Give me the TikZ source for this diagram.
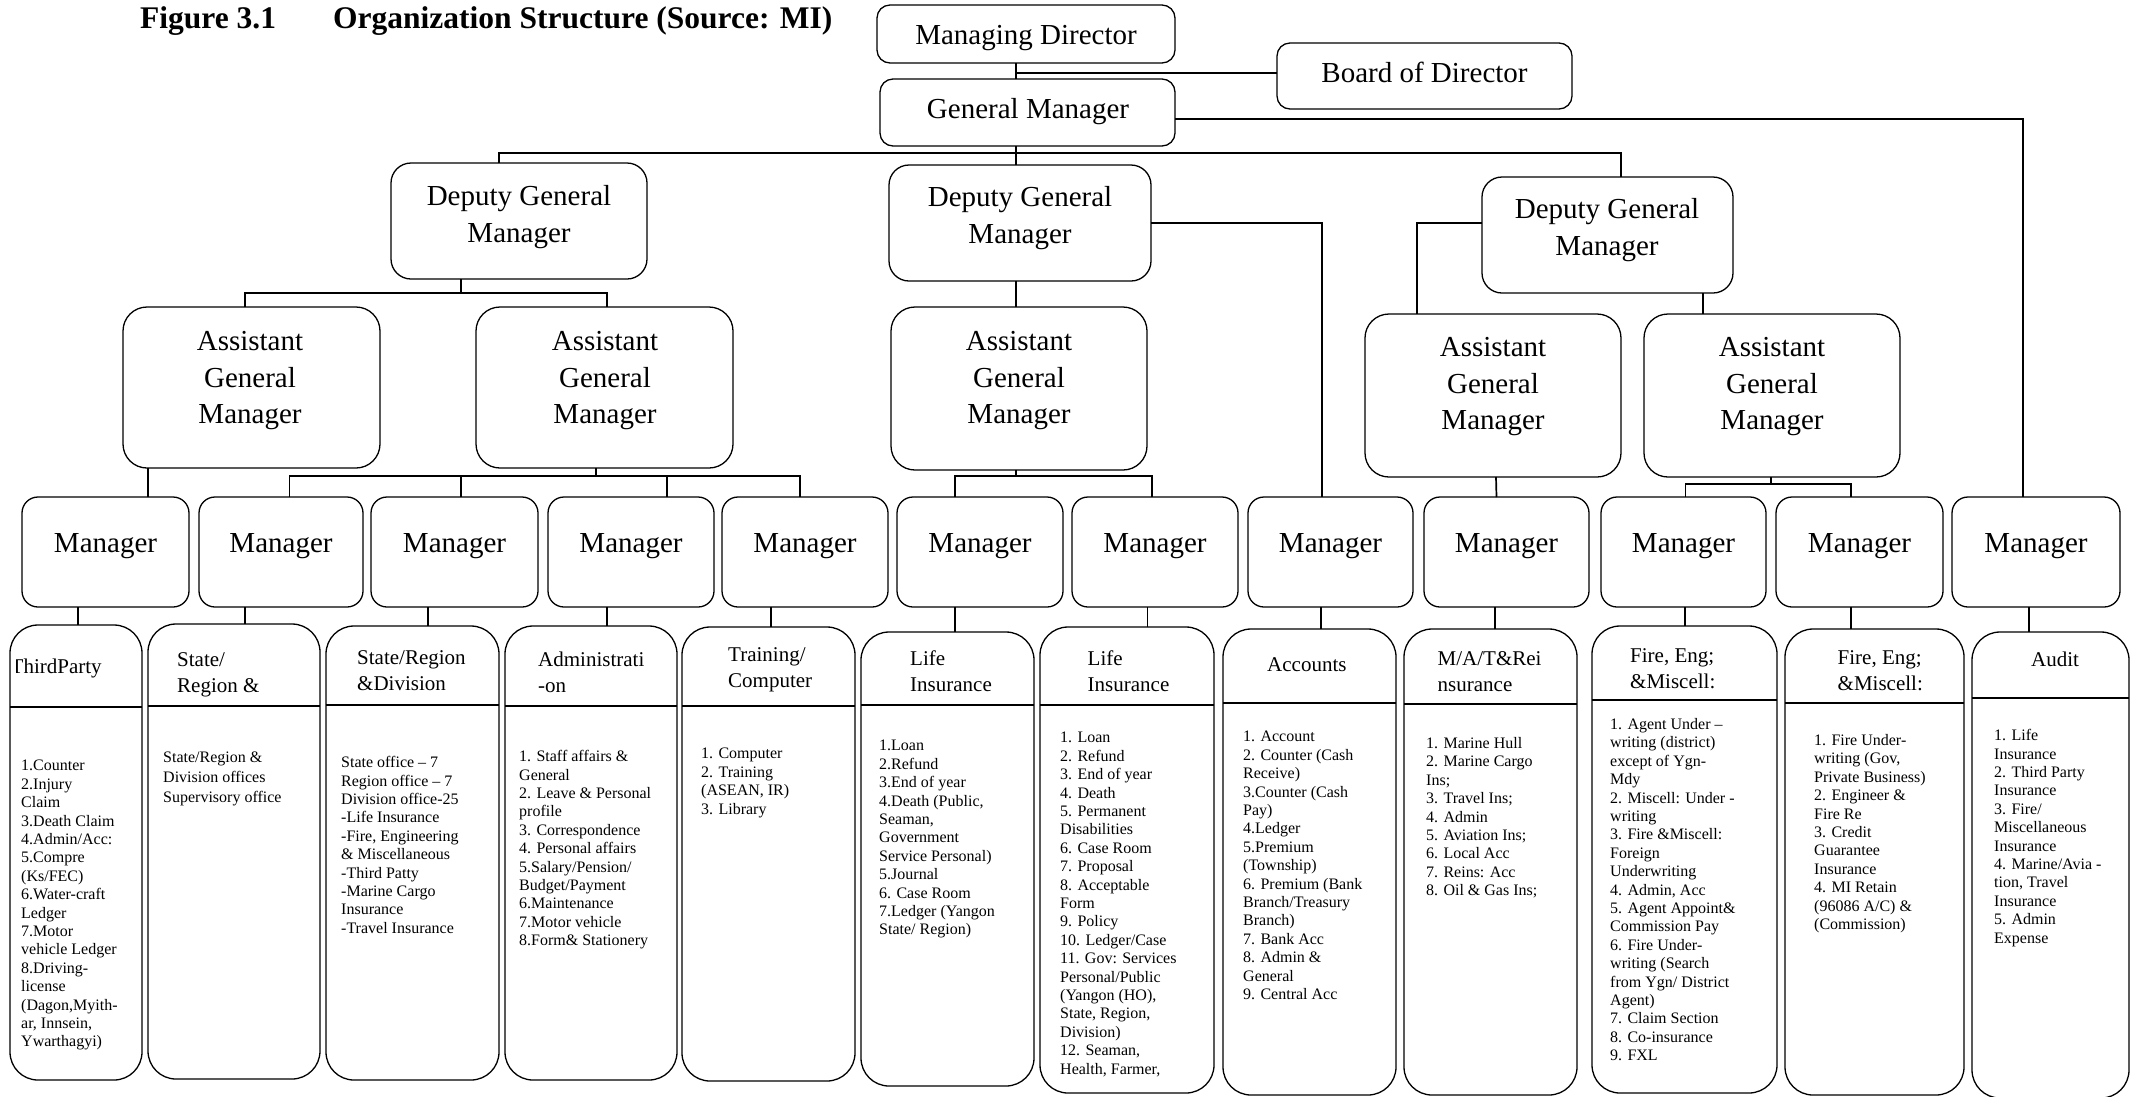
\documentclass[tikz,border=0pt]{standalone}
\usepackage{fontspec}
\setmainfont{Liberation Serif}
\newcommand\mkbox[6]{\node[#6, minimum width={(#4-#2)*1pt}, minimum height={(#5-#3)*1pt}] (#1) at ({(#2+#4)/2},{(#3+#5)/2}) {};}
\newcommand\mkdept[6]{\mkbox{#1}{#2}{#3}{#4}{#5}{deptbox}
  \draw[boxline] ([yshift={(#3-#6)*1pt}]#1.north west) -- ([yshift={(#3-#6)*1pt}]#1.north east);}
\tikzset{
  boxline/.style={draw=black, line width=1.3pt},
  boxbase/.style={boxline, rectangle, inner sep=0pt, outer sep=0pt},
  topbox/.style={boxbase, rounded corners=13pt},
  dgmbox/.style={boxbase, rounded corners=20pt},
  agmbox/.style={boxbase, rounded corners=24pt},
  mgrbox/.style={boxbase, rounded corners=16pt},
  deptbox/.style={boxbase, rounded corners=28pt},
  conn/.style={draw=black, line width=1.7pt},
  ttext/.style={font=\fontsize{29}{36.5}\selectfont, align=center, anchor=north, inner sep=0pt, yshift=25.55pt, execute at begin node=\strut},
  htext/.style={font=\fontsize{21}{26}\selectfont, align=left, anchor=north west, inner sep=0pt, yshift=18.2pt, execute at begin node=\strut},
  btext/.style={font=\fontsize{16}{18.4}\selectfont, align=left, anchor=north west, inner sep=0pt, yshift=12.88pt, execute at begin node=\strut},
  titletext/.style={font=\fontsize{31.5}{36}\selectfont\bfseries, anchor=base west, inner sep=0pt},
}
\begin{document}
\begin{tikzpicture}[x=1pt, y=-1pt]
\fill[white] (0,0) rectangle (2142,1096);
\useasboundingbox (0,0) rectangle (2142,1096);

% title
\node[titletext] (title1) at (140,28) {Figure 3.1};
\node[titletext] (title2) at (333,28) {Organization Structure (Source: MI)};

% top boxes
\mkbox{md}{877}{5}{1175}{63}{topbox}
\mkbox{bod}{1277}{43}{1572}{109}{topbox}
\mkbox{gm}{880}{79}{1175}{146}{topbox}
\node[ttext] (mdt) at (1026,44) {Managing Director};
\node[ttext] (bodt) at (1424.5,82) {Board of Director};
\node[ttext] (gmt) at (1028,118) {General Manager};

% deputy general managers
\mkbox{dgm1}{391}{163}{647}{279}{dgmbox}
\mkbox{dgm2}{889}{165}{1151}{281}{dgmbox}
\mkbox{dgm3}{1482}{177}{1733}{293}{dgmbox}
\node[ttext] (dgm1t) at (519,211) {Deputy General\\Manager};
\node[ttext] (dgm2t) at (1020,212) {Deputy General\\Manager};
\node[ttext] (dgm3t) at (1607,224) {Deputy General\\Manager};

% assistant general managers
\mkbox{agm1}{123}{307}{380}{468}{agmbox}
\mkbox{agm2}{476}{307}{733}{468}{agmbox}
\mkbox{agm3}{891}{307}{1147}{470}{agmbox}
\mkbox{agm4}{1365}{314}{1621}{477}{agmbox}
\mkbox{agm5}{1644}{314}{1900}{477}{agmbox}
\node[ttext] (agm1t) at (250,357) {Assistant\\General\\Manager};
\node[ttext] (agm2t) at (605,357) {Assistant\\General\\Manager};
\node[ttext] (agm3t) at (1019,357) {Assistant\\General\\Manager};
\node[ttext] (agm4t) at (1493,363) {Assistant\\General\\Manager};
\node[ttext] (agm5t) at (1772,363) {Assistant\\General\\Manager};

% managers
\mkbox{m1}{22}{497}{189}{607}{mgrbox}
\mkbox{m2}{199}{497}{363}{607}{mgrbox}
\mkbox{m3}{371}{497}{538}{607}{mgrbox}
\mkbox{m4}{548}{497}{714}{607}{mgrbox}
\mkbox{m5}{722}{497}{888}{607}{mgrbox}
\mkbox{m6}{897}{497}{1063}{607}{mgrbox}
\mkbox{m7}{1072}{497}{1238}{607}{mgrbox}
\mkbox{m8}{1248}{497}{1413}{607}{mgrbox}
\mkbox{m9}{1424}{497}{1589}{607}{mgrbox}
\mkbox{m10}{1601}{497}{1766}{607}{mgrbox}
\mkbox{m11}{1776}{497}{1943}{607}{mgrbox}
\mkbox{m12}{1952}{497}{2120}{607}{mgrbox}
\node[ttext] (m1t) at (m1.center) {Manager};
\node[ttext] (m2t) at (m2.center) {Manager};
\node[ttext] (m3t) at (m3.center) {Manager};
\node[ttext] (m4t) at (m4.center) {Manager};
\node[ttext] (m5t) at (m5.center) {Manager};
\node[ttext] (m6t) at (m6.center) {Manager};
\node[ttext] (m7t) at (m7.center) {Manager};
\node[ttext] (m8t) at (m8.center) {Manager};
\node[ttext] (m9t) at (m9.center) {Manager};
\node[ttext] (m10t) at (m10.center) {Manager};
\node[ttext] (m11t) at (m11.center) {Manager};
\node[ttext] (m12t) at (m12.center) {Manager};

% department boxes
\mkdept{b1}{10}{625}{142}{1080}{707}
\mkdept{b2}{148}{624}{320}{1079}{706}
\mkdept{b3}{326}{626}{499}{1080}{705}
\mkdept{b4}{505}{626}{677}{1080}{706}
\mkdept{b5}{682}{627}{855}{1081}{706}
\mkdept{b6}{861}{632}{1034}{1086}{705}
\mkdept{b7}{1040}{627}{1214}{1093}{705}
\mkdept{b8}{1223}{629}{1396}{1095}{703}
\mkdept{b9}{1404}{629}{1577}{1095}{704}
\mkdept{b10}{1592}{626}{1777}{1093}{700}
\mkdept{b11}{1785}{629}{1964}{1095}{703}
\mkdept{b12}{1972}{632}{2129}{1098}{698}

% department headers
\begin{scope}
\clip (16,640) rectangle (142,700);
\node[htext] (b1h) at (10.5,673) {ThirdParty};
\end{scope}
\node[htext] (b2h) at (177,671) {State/\\Region \&};
\node[htext] (b3h) at (357,669) {State/Region\\\&Division};
\node[htext] (b4h) at (538,670) {Administrati\\-on};
\node[htext] (b5h) at (728,666) {Training/\\Computer};
\node[htext] (b6h) at (910,669) {Life\\Insurance};
\node[htext] (b7h) at (1087.5,669) {Life\\Insurance};
\node[htext] (b8h) at (1267,671) {Accounts};
\node[htext] (b9h) at (1437.5,670) {M/A/T\&Rei\\nsurance};
\node[htext] (b10h) at (1630,667) {Fire, Eng;\\\&Miscell:};
\node[htext] (b11h) at (1837.5,669) {Fire, Eng;\\\&Miscell:};
\node[htext] (b12h) at (2031,666) {Audit};

% department bodies
\node[btext] (b1b) at (21,773) {1.Counter\\2.Injury\\Claim\\3.Death Claim\\4.Admin/Acc:\\5.Compre\\(Ks/FEC)\\6.Water-craft\\Ledger\\7.Motor\\vehicle Ledger\\8.Driving-\\license\\(Dagon,Myith-\\ar, Innsein,\\Ywarthagyi)};
\node[btext, font=\fontsize{16}{20}\selectfont, yshift=14pt] (b2b) at (163,779) {State/Region \&\\Division offices\\Supervisory office};
\node[btext] (b3b) at (341,769) {State office – 7\\Region office – 7\\Division office-25\\-Life Insurance\\-Fire, Engineering\\\& Miscellaneous\\-Third Patty\\-Marine Cargo\\Insurance\\-Travel Insurance};
\node[btext] (b4b) at (519,763) {1. Staff affairs \&\\General\\2. Leave \& Personal\\profile\\3. Correspondence\\4. Personal affairs\\5.Salary/Pension/\\Budget/Payment\\6.Maintenance\\7.Motor vehicle\\8.Form\& Stationery};
\node[btext] (b5b) at (701,761) {1. Computer\\2. Training\\(ASEAN, IR)\\3. Library};
\node[btext] (b6b) at (879,753) {1.Loan\\2.Refund\\3.End of year\\4.Death (Public,\\Seaman,\\Government\\Service Personal)\\5.Journal\\6. Case Room\\7.Ledger (Yangon\\State/ Region)};
\node[btext] (b7b) at (1060,745) {1. Loan\\2. Refund\\3. End of year\\4. Death\\5. Permanent\\Disabilities\\6. Case Room\\7. Proposal\\8. Acceptable\\Form\\9. Policy\\10. Ledger/Case\\11. Gov: Services\\Personal/Public\\(Yangon (HO),\\State, Region,\\Division)\\12. Seaman,\\Health, Farmer,};
\node[btext] (b8b) at (1243,744) {1. Account\\2. Counter (Cash\\Receive)\\3.Counter (Cash\\Pay)\\4.Ledger\\5.Premium\\(Township)\\6. Premium (Bank\\Branch/Treasury\\Branch)\\7. Bank Acc\\8. Admin \&\\General\\9. Central Acc};
\node[btext] (b9b) at (1426,750) {1. Marine Hull\\2. Marine Cargo\\Ins;\\3. Travel Ins;\\4. Admin\\5. Aviation Ins;\\6. Local Acc\\7. Reins: Acc\\8. Oil \& Gas Ins;};
\node[btext] (b10b) at (1610,731) {1. Agent Under –\\writing (district)\\except of Ygn-\\Mdy\\2. Miscell: Under -\\writing\\3. Fire \&Miscell:\\Foreign\\Underwriting\\4. Admin, Acc\\5. Agent Appoint\&\\Commission Pay\\6. Fire Under-\\writing (Search\\from Ygn/ District\\Agent)\\7. Claim Section\\8. Co-insurance\\9. FXL};
\node[btext] (b11b) at (1814,747) {1. Fire Under-\\writing (Gov,\\Private Business)\\2. Engineer \&\\Fire Re\\3. Credit\\Guarantee\\Insurance\\4. MI Retain\\(96086 A/C) \&\\(Commission)};
\node[btext] (b12b) at (1994,742) {1. Life\\Insurance\\2. Third Party\\Insurance\\3. Fire/\\Miscellaneous\\Insurance\\4. Marine/Avia -\\tion, Travel\\Insurance\\5. Admin\\Expense};

% ---------------- connectors ----------------
\coordinate (mgx) at ([xshift=-10pt]md.south);
\draw[conn] (mgx) -- (mgx |- gm.north);
\draw[conn, line width=2.8pt] ([yshift=3pt]bod.west) -- ([yshift=3pt]bod.west -| mgx);

\coordinate (jg) at ([xshift=-11.5pt, yshift=-7pt]gm.south);
\draw[conn] ([xshift=-11.5pt]gm.south) -- ([xshift=-4pt]dgm2.north);
\draw[conn] ([xshift=-20pt]dgm1.north) |- (jg) -| ([xshift=13.5pt]dgm3.north);
\draw[conn] ([yshift=-6.5pt]gm.east) -| ([xshift=-13pt]m12.north);

\coordinate (jd1) at ([xshift=-58pt, yshift=-14pt]dgm1.south);
\draw[conn] ([xshift=-58pt]dgm1.south) -- (jd1);
\draw[conn] ([xshift=-6.5pt]agm1.north) |- (jd1) -| ([xshift=2.5pt]agm2.north);

\draw[conn] ([xshift=-4pt]dgm2.south) -- ([xshift=-3pt]agm3.north);
\draw[conn] (dgm2.east) -| ([xshift=-8.5pt]m8.north);

\draw[conn] ([yshift=12pt]dgm3.west) -| ([xshift=-76pt]agm4.north);
\draw[conn] ([xshift=95.5pt]dgm3.south) -- ([xshift=-69pt]agm5.north);

\draw[conn] ([xshift=42.5pt]m1.north) -- ([xshift=42.5pt]m1.north |- agm1.south);

\coordinate (ja2) at ([xshift=-8.5pt, yshift=-8pt]agm2.south);
\draw[conn] ([xshift=-8.5pt]agm2.south) -- (ja2);
\draw[conn] ([xshift=8.5pt]m2.north) |- (ja2) -| ([xshift=-5pt]m5.north);
\draw[conn] ([xshift=6.5pt]m3.north) -- ([xshift=6.5pt]m3.north |- ja2);
\draw[conn] ([xshift=36pt]m4.north) -- ([xshift=36pt]m4.north |- ja2);

\coordinate (ja3) at ([xshift=-3pt, yshift=-6pt]agm3.south);
\draw[conn] ([xshift=-3pt]agm3.south) -- (ja3);
\draw[conn] ([xshift=-25pt]m6.north) |- (ja3) -| ([xshift=-3pt]m7.north);

\draw[conn] ([xshift=3pt]agm4.south) -- ([xshift=-10pt]m9.north);

\coordinate (ja5) at ([xshift=-1pt, yshift=-7pt]agm5.south);
\draw[conn] ([xshift=-1pt]agm5.south) -- (ja5);
\draw[conn] ([xshift=2pt]m10.north) |- (ja5) -| ([xshift=-8.5pt]m11.north);

\draw[conn] ([xshift=2pt]b1.north) -- ([xshift=2pt]b1.north |- m1.south);
\draw[conn] ([xshift=11pt]b2.north) -- ([xshift=11pt]b2.north |- m2.south);
\draw[conn] ([xshift=15.5pt]b3.north) -- ([xshift=15.5pt]b3.north |- m3.south);
\draw[conn] ([xshift=16pt]b4.north) -- ([xshift=16pt]b4.north |- m4.south);
\draw[conn] ([xshift=2.5pt]b5.north) -- ([xshift=2.5pt]b5.north |- m5.south);
\draw[conn] ([xshift=7.5pt]b6.north) -- ([xshift=7.5pt]b6.north |- m6.south);
\draw[conn] ([xshift=20.5pt]b7.north) -- ([xshift=20.5pt]b7.north |- m7.south);
\draw[conn] ([xshift=11.5pt]b8.north) -- ([xshift=11.5pt]b8.north |- m8.south);
\draw[conn] ([xshift=4.5pt]b9.north) -- ([xshift=4.5pt]b9.north |- m9.south);
\draw[conn] ([xshift=0.5pt]b10.north) -- ([xshift=0.5pt]b10.north |- m10.south);
\draw[conn] ([xshift=-23.5pt]b11.north) -- ([xshift=-23.5pt]b11.north |- m11.south);
\draw[conn] ([xshift=-21.5pt]b12.north) -- ([xshift=-21.5pt]b12.north |- m12.south);
\end{tikzpicture}
\end{document}
